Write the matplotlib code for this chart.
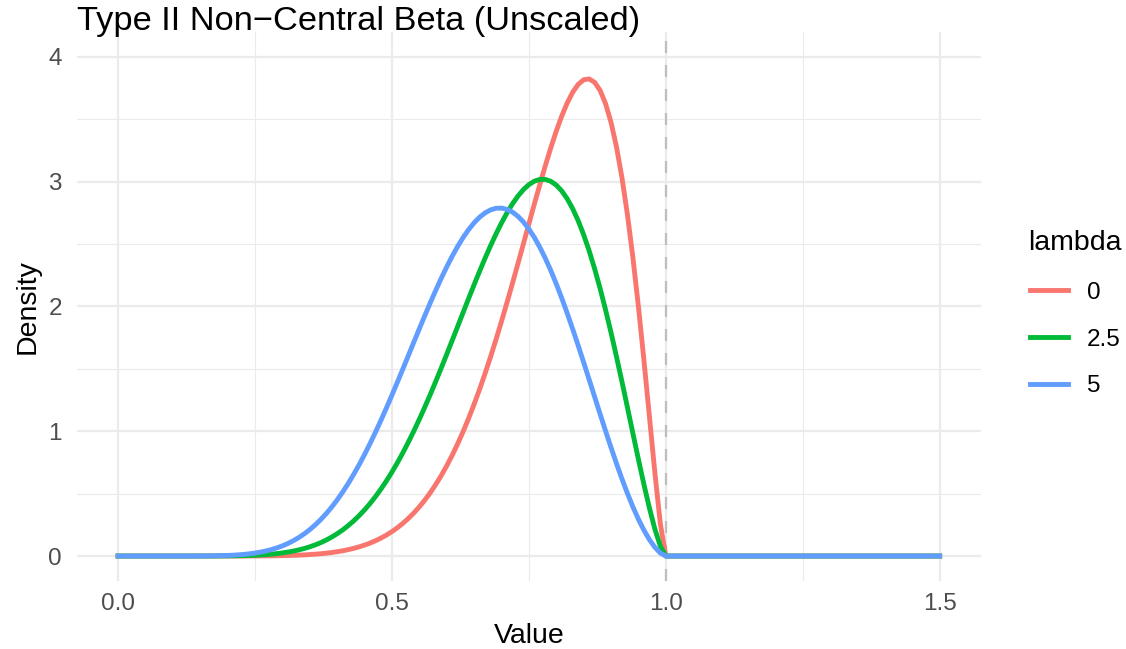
"""Type II non-central beta densities (unscaled), three lambda values."""
import matplotlib
matplotlib.use("Agg")
import matplotlib.pyplot as plt

# x values: 0.02 steps up to 0.20, then 0.01 steps to 1.00, then flat out to 1.5
value = [0.00, 0.02, 0.04, 0.06, 0.08, 0.10, 0.12, 0.14, 0.16, 0.18, 0.20,
         0.21, 0.22, 0.23, 0.24, 0.25, 0.26, 0.27, 0.28, 0.29, 0.30,
         0.31, 0.32, 0.33, 0.34, 0.35, 0.36, 0.37, 0.38, 0.39, 0.40,
         0.41, 0.42, 0.43, 0.44, 0.45, 0.46, 0.47, 0.48, 0.49, 0.50,
         0.51, 0.52, 0.53, 0.54, 0.55, 0.56, 0.57, 0.58, 0.59, 0.60,
         0.61, 0.62, 0.63, 0.64, 0.65, 0.66, 0.67, 0.68, 0.69, 0.70,
         0.71, 0.72, 0.73, 0.74, 0.75, 0.76, 0.77, 0.78, 0.79, 0.80,
         0.81, 0.82, 0.83, 0.84, 0.85, 0.86, 0.87, 0.88, 0.89, 0.90,
         0.91, 0.92, 0.93, 0.94, 0.95, 0.96, 0.97, 0.98, 0.99, 1.00,
         1.50]

# lambda = 0
dens_0 = [0, 0, 0, 0, 0, 0, 0, 0, 0, 0, 0.0001,
          0.0002, 0.0002, 0.0003, 0.0005, 0.0007, 0.0010, 0.0013, 0.0018, 0.0025, 0.0033,
          0.0043, 0.0056, 0.0072, 0.0092, 0.0117, 0.0148, 0.0184, 0.0229, 0.0282, 0.0346,
          0.0421, 0.0510, 0.0614, 0.0735, 0.0876, 0.1038, 0.1225, 0.1439, 0.1682, 0.1959,
          0.2271, 0.2623, 0.3016, 0.3455, 0.3944, 0.4484, 0.5080, 0.5735, 0.6452, 0.7232,
          0.8080, 0.8995, 0.9981, 1.1038, 1.2166, 1.3364, 1.4631, 1.5964, 1.7358, 1.8810,
          2.0312, 2.1855, 2.3430, 2.5025, 2.6625, 2.8214, 2.9774, 3.1283, 3.2719, 3.4055,
          3.5263, 3.6313, 3.7171, 3.7802, 3.8171, 3.8239, 3.7968, 3.7320, 3.6260, 3.4754,
          3.2776, 3.0307, 2.7341, 2.3889, 1.9989, 1.5716, 1.1206, 0.6690, 0.2591, 0,
          0]

# lambda = 2.5
dens_25 = [0, 0, 0, 0, 0, 0, 0, 0.0001, 0.0002, 0.0005, 0.0012,
           0.0017, 0.0024, 0.0035, 0.0048, 0.0065, 0.0088, 0.0116, 0.0152, 0.0196, 0.0251,
           0.0317, 0.0397, 0.0493, 0.0606, 0.0739, 0.0895, 0.1075, 0.1282, 0.1519, 0.1788,
           0.2092, 0.2433, 0.2813, 0.3235, 0.3700, 0.4211, 0.4768, 0.5374, 0.6028, 0.6731,
           0.7483, 0.8283, 0.9131, 1.0024, 1.0961, 1.1938, 1.2952, 1.3999, 1.5073, 1.6170,
           1.7283, 1.8404, 1.9528, 2.0644, 2.1746, 2.2824, 2.3868, 2.4868, 2.5814, 2.6695,
           2.7502, 2.8223, 2.8847, 2.9366, 2.9768, 3.0044, 3.0186, 3.0185, 3.0035, 2.9729,
           2.9263, 2.8633, 2.7837, 2.6876, 2.5752, 2.4467, 2.3030, 2.1448, 1.9733, 1.7901,
           1.5969, 1.3959, 1.1897, 0.9814, 0.7747, 0.5743, 0.3858, 0.2168, 0.0790, 0,
           0]

# lambda = 5
dens_5 = [0, 0, 0, 0, 0, 0, 0.0001, 0.0003, 0.0009, 0.0022, 0.0048,
          0.0069, 0.0097, 0.0133, 0.0180, 0.0240, 0.0314, 0.0406, 0.0519, 0.0654, 0.0815,
          0.1005, 0.1228, 0.1485, 0.1781, 0.2118, 0.2498, 0.2924, 0.3399, 0.3923, 0.4498,
          0.5125, 0.5803, 0.6533, 0.7312, 0.8141, 0.9015, 0.9932, 1.0889, 1.1879, 1.2900,
          1.3943, 1.5004, 1.6074, 1.7148, 1.8215, 1.9269, 2.0301, 2.1301, 2.2262, 2.3174,
          2.4029, 2.4817, 2.5532, 2.6165, 2.6708, 2.7157, 2.7503, 2.7743, 2.7872, 2.7887,
          2.7786, 2.7567, 2.7230, 2.6777, 2.6210, 2.5532, 2.4747, 2.3861, 2.2881, 2.1814,
          2.0670, 1.9458, 1.8188, 1.6872, 1.5521, 1.4147, 1.2765, 1.1386, 1.0024, 0.8693,
          0.7405, 0.6174, 0.5012, 0.3933, 0.2950, 0.2074, 0.1319, 0.0700, 0.0241, 0,
          0]

lambdas = ["0", "2.5", "5"]
colors = ["#F8766D", "#00BA38", "#619CFF"]
x_ticks = [0.0, 0.5, 1.0, 1.5]
y_ticks = [0, 1, 2, 3, 4]

plt.rcParams["font.family"] = ["Liberation Sans", "DejaVu Sans"]

fig = plt.figure(figsize=(11.26, 6.49), dpi=100)
ax = fig.add_axes([0.0684, 0.1048, 0.8026, 0.8459])

# ggplot theme_minimal look
for s in ax.spines.values():
    s.set_visible(False)
ax.set_xlim(-0.075, 1.575)
ax.set_ylim(-0.2, 4.2)
ax.set_xticks(x_ticks)
ax.set_xticklabels([f"{t:.1f}" for t in x_ticks])
ax.set_yticks(y_ticks)
ax.set_xticks([0.25, 0.75, 1.25], minor=True)
ax.set_yticks([0.5, 1.5, 2.5, 3.5], minor=True)
ax.grid(which="major", color="#EBEBEB", lw=1.6)
ax.grid(which="minor", color="#EBEBEB", lw=0.8)
ax.set_axisbelow(True)
ax.tick_params(which="both", length=0)
ax.tick_params(axis="x", labelsize=17.5, labelcolor="#4D4D4D", pad=8.7)
ax.tick_params(axis="y", labelsize=17.5, labelcolor="#4D4D4D", pad=10.8)

ax.axvline(1.0, color="#BEBEBE", lw=1.6, dashes=(5.4, 5.4), zorder=1.5)

for dens, lab, c in zip([dens_0, dens_25, dens_5], lambdas, colors):
    ax.plot(value, dens, color=c, lw=3.5, label=lab, zorder=2)

ax.set_xlabel("Value", fontsize=20.5, labelpad=5.5)
ax.set_ylabel("Density", fontsize=20.5, labelpad=5.8)
# title placed by hand: ax.set_title keeps descenders above the panel, ggplot doesn't
fig.text(77 / 1126, 1 - 30 / 649, "Type II Non\u2212Central Beta (Unscaled)",
         fontsize=24.75, va="baseline", ha="left")

# legend: title as separate text so its gap to the keys matches ggplot
fig.text(1028 / 1126, 1 - 250 / 649, "lambda", fontsize=20.5, va="baseline", ha="left")
ax.legend(loc="center left", bbox_to_anchor=(1008 / 1126, 1 - 339.5 / 649),
          bbox_transform=fig.transFigure, frameon=False, fontsize=17.5,
          handlelength=1.56, handletextpad=0.78, labelspacing=1.025)

fig.savefig("out.png", dpi=100)
